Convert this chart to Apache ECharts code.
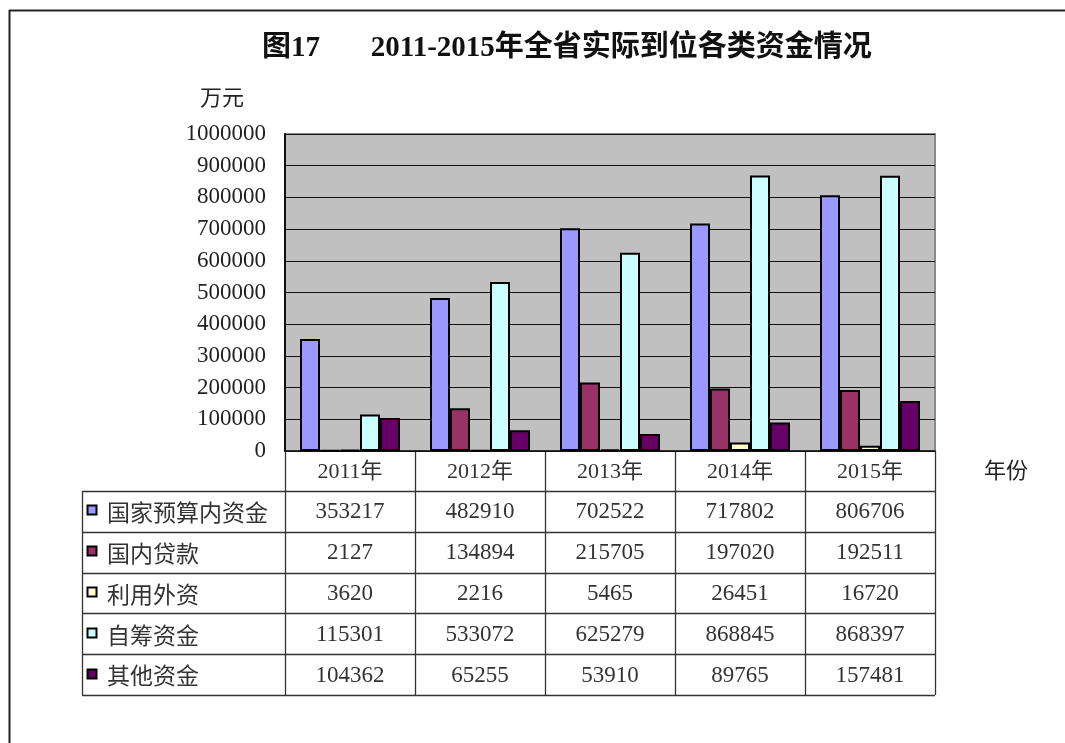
<!DOCTYPE html>
<html><head><meta charset="utf-8">
<script src="https://cdn.jsdelivr.net/npm/echarts@6/dist/echarts.min.js"></script>
<style>html,body{margin:0;padding:0;background:#fff}#c{width:1065px;height:743px}</style>
</head><body><div id="c"></div>
<script>
const categories = ['2011年','2012年','2013年','2014年','2015年'];
const seriesNames = ['国家预算内资金','国内贷款','利用外资','自筹资金','其他资金'];
const budget = [353217, 482910, 702522, 717802, 806706];
const loans = [2127, 134894, 215705, 197020, 192511];
const foreign = [3620, 2216, 5465, 26451, 16720];
const selfRaised = [115301, 533072, 625279, 868845, 868397];
const others = [104362, 65255, 53910, 89765, 157481];
const colors = ['#9999FF','#993366','#FFFFCC','#CCFFFF','#660066'];
const values = [budget, loans, foreign, selfRaised, others];

const serif = '"Liberation Serif","Noto Sans CJK SC",serif';
const G = {left:285, right:935, top:134, bottom:451};
const tableLeft = 82, headH = 40, rowH = 40.8;
const colW = (G.right - G.left) / categories.length;

const graphics = [];
graphics.push({type:'line', shape:{x1:9.5,y1:10,x2:9.5,y2:743}, style:{stroke:'#222',lineWidth:2}, silent:true});
graphics.push({type:'line', shape:{x1:9,y1:10.5,x2:1065,y2:10.5}, style:{stroke:'#222',lineWidth:2}, silent:true});
const tableBottom = G.bottom + headH + rowH*seriesNames.length;
for (let i = 0; i <= categories.length; i++) {
  const x = Math.round(G.left + i*colW) + 0.5;
  graphics.push({type:'line', shape:{x1:x,y1:G.bottom,x2:x,y2:tableBottom}, style:{stroke:'#333',lineWidth:1.3}, silent:true});
}
graphics.push({type:'line', shape:{x1:tableLeft+0.5,y1:G.bottom+headH,x2:tableLeft+0.5,y2:tableBottom}, style:{stroke:'#333',lineWidth:1.3}, silent:true});
for (let r = 0; r <= seriesNames.length; r++) {
  const y = Math.round(G.bottom + headH + r*rowH) + 0.5;
  graphics.push({type:'line', shape:{x1:tableLeft,y1:y,x2:G.right,y2:y}, style:{stroke:'#333',lineWidth:1.3}, silent:true});
}
categories.forEach((c, i) => {
  graphics.push({type:'text', x:G.left + (i+0.5)*colW, y:G.bottom + headH/2 + 1,
    style:{text:c, font:'22px '+serif, fill:'#333', textAlign:'center', textVerticalAlign:'middle'}, silent:true});
});
seriesNames.forEach((n, r) => {
  const cy = G.bottom + headH + (r+0.5)*rowH;
  graphics.push({type:'rect', shape:{x:87.5,y:Math.round(cy)-5.5,width:9,height:9},
    style:{fill:colors[r], stroke:'#000', lineWidth:2}, silent:true});
  graphics.push({type:'text', x:107, y:cy+1,
    style:{text:n, font:'23px "Noto Sans CJK SC",sans-serif', fill:'#333', textAlign:'left', textVerticalAlign:'middle'}, silent:true});
  values[r].forEach((v, i) => {
    graphics.push({type:'text', x:G.left + (i+0.5)*colW, y:cy+1,
      style:{text:String(v), font:'23px '+serif, fill:'#333', textAlign:'center', textVerticalAlign:'middle'}, silent:true});
  });
});
graphics.push({type:'text', x:222, y:97, style:{text:'万元', font:'22px "Noto Sans CJK SC",sans-serif', fill:'#222', textAlign:'center', textVerticalAlign:'middle'}, silent:true});
graphics.push({type:'text', x:1006, y:470, style:{text:'年份', font:'22px "Noto Sans CJK SC",sans-serif', fill:'#222', textAlign:'center', textVerticalAlign:'middle'}, silent:true});

const chart = echarts.init(document.getElementById('c'), null, {renderer:'canvas'});
chart.setOption({
  backgroundColor:'#fff',
  animation:false,
  title:{text:'图17       2011-2015年全省实际到位各类资金情况', left:257, top:29,
    textStyle:{fontFamily:serif, fontSize:29, fontWeight:'bold', color:'#111'}},
  grid:{left:G.left, right:1065-G.right, top:G.top, bottom:743-G.bottom, show:true,
    backgroundColor:'#C0C0C0', borderColor:'#8a8a8a', borderWidth:2},
  xAxis:{type:'category', data:categories,
    axisLine:{lineStyle:{color:'#111', width:1.5}}, axisTick:{show:false}, axisLabel:{show:false}},
  yAxis:{type:'value', min:0, max:1000000, interval:100000,
    axisLine:{show:true, lineStyle:{color:'#111', width:2}}, axisTick:{show:false},
    axisLabel:{fontFamily:serif, fontSize:23, color:'#222', margin:19, formatter:v => String(v)},
    splitLine:{lineStyle:{color:'#111', width:1.2}}},
  series: seriesNames.map((n, i) => ({
    name:n, type:'bar', data:values[i], barWidth:20, barGap:'0%',
    itemStyle:{color:colors[i], borderColor:'#000', borderWidth:2}
  })),
  graphic: graphics
});
</script></body></html>
